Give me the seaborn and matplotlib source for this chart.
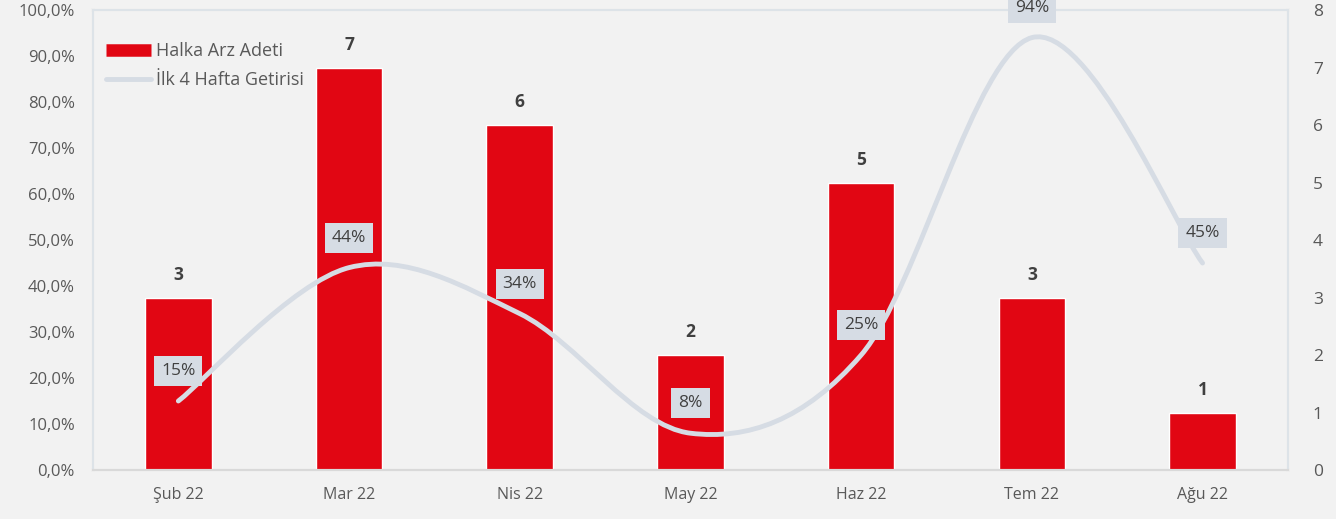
import numpy as np
import pandas as pd
import matplotlib
matplotlib.use("Agg")
import matplotlib.pyplot as plt
from matplotlib.path import Path
from matplotlib.patches import PathPatch
from matplotlib.lines import Line2D
from matplotlib.ticker import FuncFormatter, MultipleLocator
import seaborn as sns

# data
months = ["Şub 22", "Mar 22", "Nis 22", "May 22", "Haz 22", "Tem 22", "Ağu 22"]
ipo_count = [3, 7, 6, 2, 5, 3, 1]            # Halka Arz Adeti (right axis)
first_4w_return = [15, 44, 34, 8, 25, 94, 45]  # İlk 4 Hafta Getirisi, % (left axis)

RED = "#e10613"
LINE = "#d6dce4"
TXT = "#404040"
TICK = "#595959"
BG = "#f2f2f2"

sns.set_theme(style="white")
plt.rcParams["font.family"] = ["Open Sans", "DejaVu Sans"]

df = pd.DataFrame({"month": months, "count": ipo_count, "ret": first_4w_return})

fig = plt.figure(figsize=(13.36, 5.19), dpi=100, facecolor=BG)
ax = fig.add_axes([0.0696, 0.0944, 0.8944, 0.8863])
ax2 = ax.twinx()

# bars on the right axis
sns.barplot(data=df, x="month", y="count", color=RED, width=0.39,
            saturation=1, ax=ax2, zorder=2)
ax2.set_ylim(0, 8)
ax2.set_xlim(-0.5, 6.5)
for i, c in enumerate(ipo_count):
    ax2.annotate(str(c), (i, c), xytext=(0, 14), textcoords="offset pixels",
                 ha="center", va="bottom", fontsize=12.5, fontweight="bold",
                 color=TXT)

# smoothed line on the left axis (Excel-like bezier smoothing)
x = np.arange(len(first_4w_return), dtype=float)
y = np.array(first_4w_return, dtype=float)
px = np.concatenate([[x[0]], x, [x[-1]]])
py = np.concatenate([[y[0]], y, [y[-1]]])
verts = [(x[0], y[0])]
codes = [Path.MOVETO]
for i in range(1, len(x)):
    p0 = np.array([px[i - 1], py[i - 1]])
    p1 = np.array([px[i], py[i]])
    p2 = np.array([px[i + 1], py[i + 1]])
    p3 = np.array([px[i + 2], py[i + 2]])
    c1 = p1 + (p2 - p0) / 6
    c2 = p2 - (p3 - p1) / 6
    verts += [tuple(c1), tuple(c2), tuple(p2)]
    codes += [Path.CURVE4] * 3
ax.add_patch(PathPatch(Path(verts, codes), facecolor="none", edgecolor=LINE,
                       lw=3.5, capstyle="round", zorder=3))
for i, r in enumerate(first_4w_return):
    ax.annotate(f"{r}%", (i, r), xytext=(0, 30), textcoords="offset pixels",
                ha="center", va="center", fontsize=12.5, color=TXT,
                annotation_clip=False, zorder=4,
                bbox=dict(boxstyle="square,pad=0.4", fc=LINE, ec="none"))

ax.set_ylim(0, 100)
ax.set_xlim(-0.5, 6.5)
ax.set_zorder(ax2.get_zorder() + 1)
ax.patch.set_visible(False)
ax2.patch.set_facecolor(BG)

ax.yaxis.set_major_locator(MultipleLocator(10))
ax.yaxis.set_major_formatter(FuncFormatter(lambda v, p: f"{v:.1f}%".replace(".", ",")))
ax2.yaxis.set_major_locator(MultipleLocator(1))

ax.set_xticks(range(len(months)))
ax.set_xticklabels(months)
ax.set_xticks(np.arange(-0.5, 7, 1), minor=True)
ax.tick_params(axis="x", which="major", length=0, pad=12, labelsize=11.5, labelcolor=TICK)
ax.tick_params(axis="x", which="minor", length=5, color="#d9d9d9", width=1, direction="out")
ax.tick_params(axis="y", length=0, labelsize=12, labelcolor=TICK, pad=13)
ax2.tick_params(axis="y", length=0, labelsize=12.5, labelcolor=TICK, pad=18)
ax2.tick_params(axis="x", length=0, labelbottom=False)
ax.set_xlabel("")
ax.set_ylabel("")
ax2.set_xlabel("")
ax2.set_ylabel("")

for a in (ax, ax2):
    for s in a.spines.values():
        s.set_color("#dde3e8")
        s.set_linewidth(1.5)
ax.spines["bottom"].set_color("#d9d9d9")
ax2.spines["bottom"].set_color("#d9d9d9")

handles = [Line2D([0], [0], color=RED, lw=9, solid_capstyle="butt"),
           Line2D([0], [0], color=LINE, lw=3.5)]
ax.legend(handles, ["Halka Arz Adeti", "İlk 4 Hafta Getirisi"],
          loc="upper left", bbox_to_anchor=(-0.003, 0.965), frameon=False,
          fontsize=13, labelcolor=TICK, handlelength=2.5, handletextpad=0.3,
          labelspacing=0.6)

fig.savefig("out.png", dpi=100, facecolor=BG)
